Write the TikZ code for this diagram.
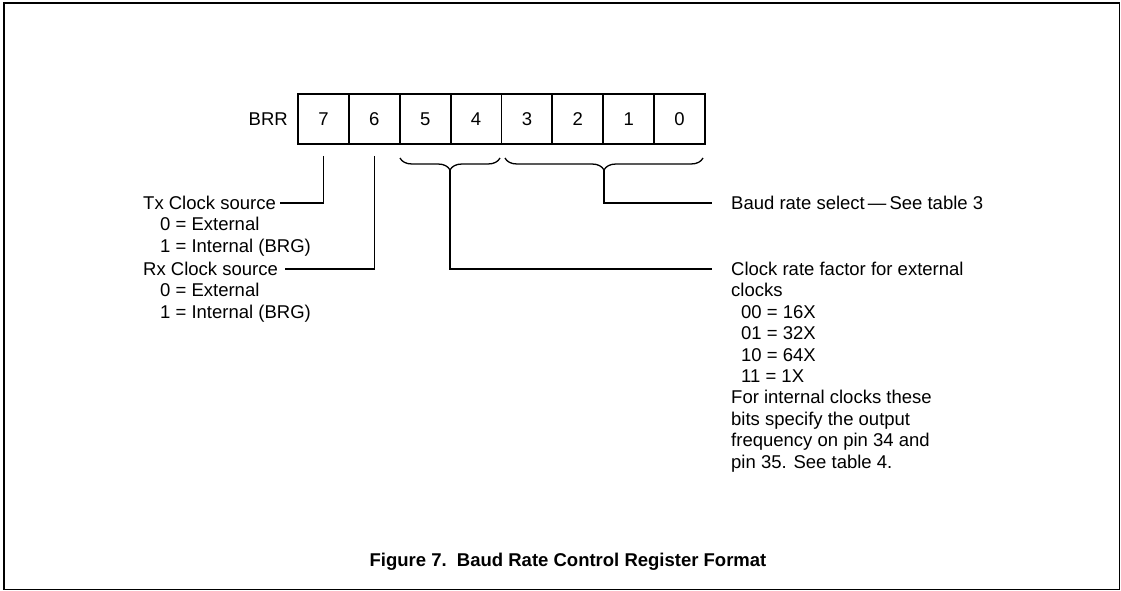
\documentclass[tikz,border=0pt]{standalone}
\usepackage{fontspec}
\setmainfont{Liberation Sans}
\usetikzlibrary{decorations.pathreplacing,calc}
\newcommand{\fs}{\fontsize{18.5}{21.4}\selectfont}
\begin{document}
\begin{tikzpicture}[x=1pt,y=-1pt,
  bitbox/.style={draw, line width=1.8pt, minimum width=50.875pt, minimum height=50pt, inner sep=0pt, font=\fs},
  lbl/.style={anchor=base west, inner sep=0pt, font=\fs},
  leader/.style={line width=1.4pt},
  bracestyle/.style={line width=1.3pt, decorate, decoration={brace, mirror, amplitude=12pt}}]
\useasboundingbox (0,0) rectangle (1121,591);
\draw[line width=1.2pt] (4,3) rectangle (1119.5,589.5);
% register
\node[lbl, anchor=east, inner sep=0pt] (brr) at (288,119) {BRR};
\foreach \b [count=\i from 0] in {7,6,5,4,3,2,1,0}{
  \node[bitbox] (b\b) at ({298+50.875*(\i+0.5)},119) {\b};
}
% braces
\coordinate (brA1) at (400,158);
\coordinate (brA2) at (500,158);
\coordinate (brB1) at (505,158);
\coordinate (brB2) at (703,158);
\draw[bracestyle] (brA1) -- (brA2);
\draw[bracestyle] (brB1) -- (brB2);
\coordinate (tipA) at (450,170);
\coordinate (tipB) at (604,170);
% left texts
\node[lbl] (tx)  at (143,209.5) {Tx Clock source};
\node[lbl] (tx0) at (160,230.9) {0 = External};
\node[lbl] (tx1) at (160,252.3) {1 = Internal (BRG)};
\node[lbl] (rx)  at (143,275.5) {Rx Clock source};
\node[lbl] (rx0) at (160,296.9) {0 = External};
\node[lbl] (rx1) at (160,318.3) {1 = Internal (BRG)};
% right texts
\node[lbl] (baud) at (731,209.5) {Baud rate select\,---\,See table 3};
\node[lbl] (crf)  at (731,275.5) {Clock rate factor for external};
\node[lbl] (crf1) at (731,296.9) {clocks};
\node[lbl] (crf2) at (741,318.3) {00 = 16X};
\node[lbl] (crf3) at (741,339.7) {01 = 32X};
\node[lbl] (crf4) at (741,361.1) {10 = 64X};
\node[lbl] (crf5) at (741,382.5) {11 = 1X};
\node[lbl] (crf6) at (731,403.9) {For internal clocks these};
\node[lbl] (crf7) at (731,425.3) {bits specify the output};
\node[lbl] (crf8) at (731,446.7) {frequency on pin 34 and};
\node[lbl] (crf9) at (731,468.1) {pin 35. See table 4.};
% leaders
\draw[leader] ([yshift=-11pt]b7.south) |- (280,203);
\draw[leader] ([yshift=-11pt]b6.south) |- (285,269);
\draw[leader] (tipB) |- (712,203);
\draw[leader] (tipA) |- (712,269);
% caption
\node[font=\bfseries\fs, inner sep=0pt] (cap) at (568,562) {Figure 7.\ \ Baud Rate Control Register Format};
\end{tikzpicture}
\end{document}
